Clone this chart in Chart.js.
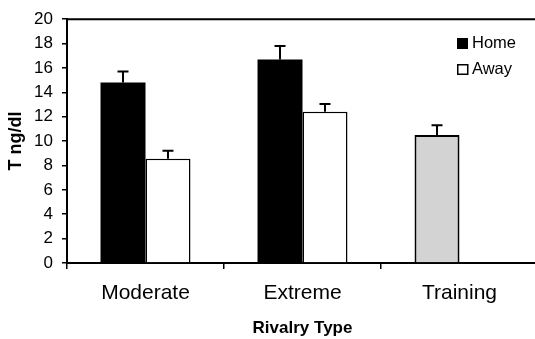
<!DOCTYPE html>
<html>
<head>
<meta charset="utf-8">
<script src="https://cdn.jsdelivr.net/npm/chart.js@4"></script>
<style>
  html, body { margin: 0; padding: 0; background: #fff; overflow: hidden; }
</style>
</head>
<body>
<canvas id="chart" width="540" height="339"></canvas>
<script>
const categories = ['Moderate', 'Extreme', 'Training'];
const seriesNames = ['Home', 'Away'];
const homeValues = [14.8, 16.7, 10.5];
const awayValues = [8.55, 12.4, null];
const homeErrors = [0.9, 1.1, 0.8];
const awayErrors = [0.65, 0.65, null];
const yMin = 0, yMax = 20, yStep = 2;

const FONT = "'Liberation Sans', Arial, Helvetica, sans-serif";

// error bars, drawn upward only, with a small cap
const errorBars = {
  id: 'errorBars',
  afterDatasetsDraw(chart) {
    const ctx = chart.ctx;
    const y = chart.scales.y;
    const errs = [homeErrors, awayErrors];
    ctx.save();
    ctx.strokeStyle = '#000';
    ctx.lineWidth = 2;
    chart.data.datasets.forEach((ds, i) => {
      chart.getDatasetMeta(i).data.forEach((bar, j) => {
        const v = ds.data[j];
        if (v == null) return;
        const top = y.getPixelForValue(v + errs[i][j]);
        ctx.beginPath();
        ctx.moveTo(bar.x, bar.y);
        ctx.lineTo(bar.x, top);
        ctx.moveTo(bar.x - 5.5, top);
        ctx.lineTo(bar.x + 5.5, top);
        ctx.stroke();
      });
    });
    ctx.restore();
  }
};

// top border line + legend inside the plot
const frameAndLegend = {
  id: 'frameAndLegend',
  afterDraw(chart) {
    const ctx = chart.ctx;
    const a = chart.chartArea;
    ctx.save();
    ctx.strokeStyle = '#000';
    ctx.lineWidth = 2;
    ctx.beginPath();
    ctx.moveTo(a.left, a.top);
    ctx.lineTo(a.right + 5, a.top);
    ctx.stroke();

    const lx = a.right - 81;
    ctx.fillStyle = '#000';
    ctx.fillRect(lx, 38, 11, 11);
    ctx.lineWidth = 1.5;
    ctx.strokeRect(lx + 0.75, 64.75, 10, 9.5);
    ctx.font = '16.5px ' + FONT;
    ctx.textBaseline = 'middle';
    ctx.textAlign = 'left';
    ctx.fillText(seriesNames[0], lx + 15, 43.5);
    ctx.fillText(seriesNames[1], lx + 15, 69.5);
    ctx.restore();
  }
};

new Chart(document.getElementById('chart'), {
  type: 'bar',
  data: {
    labels: categories,
    datasets: [
      {
        label: seriesNames[0],
        data: homeValues,
        backgroundColor: c => c.dataIndex === 2 ? '#d3d3d3' : '#000',
        borderColor: '#000',
        borderWidth: c => c.dataIndex === 2 ? 2 : 0
      },
      {
        label: seriesNames[1],
        data: awayValues,
        backgroundColor: '#fff',
        borderColor: '#000',
        borderWidth: 1.5
      }
    ]
  },
  options: {
    responsive: false,
    animation: false,
    layout: { padding: { top: 19, right: 2, left: 0, bottom: 0 } },
    categoryPercentage: 0.573,
    barPercentage: 1,
    plugins: {
      legend: { display: false },
      tooltip: { enabled: false }
    },
    scales: {
      x: {
        grid: { drawOnChartArea: false, color: '#000', lineWidth: 1.5, tickLength: 6, offset: true },
        border: { color: '#000', width: 2 },
        ticks: { color: '#000', font: { family: FONT, size: 21 }, padding: 12 },
        title: {
          display: true, text: 'Rivalry Type', color: '#000',
          font: { family: FONT, size: 17, weight: 'bold' }, padding: 0
        },
        afterFit: s => { s.height = 76; }
      },
      y: {
        min: yMin, max: yMax,
        grid: { drawOnChartArea: false, color: '#000', lineWidth: 1.5, tickLength: 5 },
        border: { color: '#000', width: 2 },
        ticks: { stepSize: yStep, color: '#000', font: { family: FONT, size: 17 }, padding: 9 },
        title: {
          display: true, text: 'T ng/dl', color: '#000',
          font: { family: FONT, size: 18, weight: 'bold' }, padding: { top: 5, bottom: 0 }
        },
        afterFit: s => { s.width = 67; }
      }
    }
  },
  plugins: [errorBars, frameAndLegend]
});
</script>
</body>
</html>
